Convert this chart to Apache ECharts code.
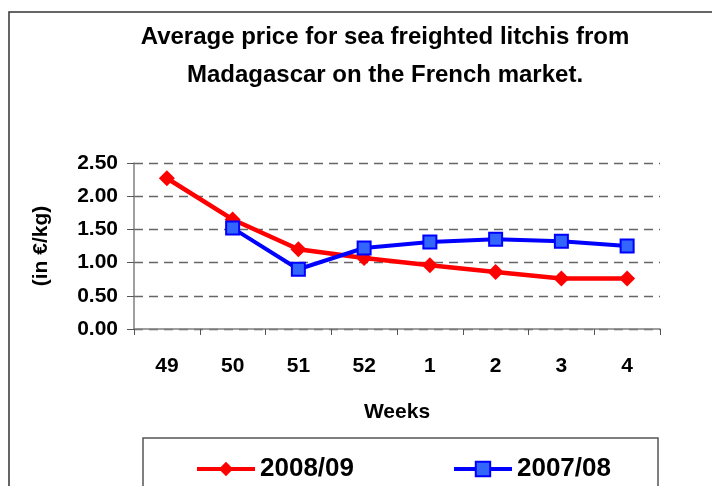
<!DOCTYPE html>
<html>
<head>
<meta charset="utf-8">
<script src="https://cdn.jsdelivr.net/npm/echarts@6/dist/echarts.min.js"></script>
<style>
  body { margin: 0; padding: 0; background: #fff; }
  #chart { width: 712px; height: 486px; }
</style>
</head>
<body>
<div id="chart"></div>
<script>
// week numbers on the x axis
const weeks = ['49', '50', '51', '52', '1', '2', '3', '4']
// average price in €/kg
const season0809 = [2.27, 1.65, 1.20, 1.07, 0.96, 0.86, 0.76, 0.76]
const season0708 = ['-', 1.52, 0.90, 1.22, 1.31, 1.35, 1.32, 1.25]

const font = "'Liberation Sans', Arial, sans-serif"

const chart = echarts.init(document.getElementById('chart'))
chart.setOption({
  backgroundColor: '#fff',
  animation: false,
  textStyle: { fontFamily: font },
  title: {
    text: 'Average price for sea freighted litchis from\nMadagascar on the French market.',
    left: 380,
    top: 13,
    textAlign: 'center',
    textStyle: {
      fontFamily: font,
      fontSize: 24,
      fontWeight: 'bold',
      lineHeight: 38,
      color: '#000'
    }
  },
  graphic: [
    {
      type: 'rect',
      shape: { x: 9, y: 12, width: 760, height: 560 },
      style: { fill: 'none', stroke: '#333', lineWidth: 1.5 },
      silent: true
    },
    {
      type: 'rect',
      shape: { x: 143, y: 438, width: 515, height: 100 },
      style: { fill: 'none', stroke: '#555', lineWidth: 1.5 },
      silent: true
    }
  ],
  legend: {
    left: 195,
    top: 456,
    padding: 0,
    itemWidth: 58,
    itemHeight: 18,
    itemGap: 98,
    lineStyle: { width: 4 },
    textStyle: {
      fontFamily: font,
      fontSize: 26,
      fontWeight: 'bold',
      color: '#000'
    },
    data: ['2008/09', '2007/08']
  },
  grid: {
    left: 134,
    right: 52,
    top: 163,
    bottom: 157
  },
  xAxis: {
    type: 'category',
    data: weeks,
    boundaryGap: true,
    name: 'Weeks',
    nameLocation: 'middle',
    nameGap: 73,
    nameTextStyle: {
      fontFamily: font,
      fontSize: 21,
      fontWeight: 'bold',
      color: '#000',
      verticalAlign: 'top'
    },
    axisLine: { lineStyle: { color: '#808080', width: 1.5 } },
    axisTick: { show: true, length: 6, lineStyle: { color: '#555' } },
    axisLabel: {
      margin: 27,
      fontFamily: font,
      fontSize: 21,
      fontWeight: 'bold',
      color: '#000'
    }
  },
  yAxis: {
    type: 'value',
    min: 0,
    max: 2.5,
    interval: 0.5,
    name: '(in €/kg)',
    nameLocation: 'middle',
    nameRotate: 90,
    nameGap: 82,
    nameTextStyle: {
      fontFamily: font,
      fontSize: 21,
      fontWeight: 'bold',
      color: '#000'
    },
    axisLine: { show: true, lineStyle: { color: '#808080', width: 1.5 } },
    axisTick: { show: true, length: 7, lineStyle: { color: '#555' } },
    axisLabel: {
      margin: 16,
      fontFamily: font,
      fontSize: 21,
      fontWeight: 'bold',
      color: '#000',
      formatter: v => v.toFixed(2)
    },
    splitLine: {
      show: true,
      lineStyle: { color: '#666', type: [9, 6], width: 1.3 }
    }
  },
  series: [
    {
      name: '2008/09',
      type: 'line',
      data: season0809,
      symbol: 'diamond',
      symbolSize: 16,
      lineStyle: { color: '#ff0000', width: 4.5 },
      itemStyle: { color: '#ff0000' }
    },
    {
      name: '2007/08',
      type: 'line',
      data: season0708,
      symbol: 'rect',
      symbolSize: 13,
      lineStyle: { color: '#0000ff', width: 4 },
      itemStyle: { color: '#3366ff', borderColor: '#0000ff', borderWidth: 2 }
    }
  ]
})
</script>
</body>
</html>
